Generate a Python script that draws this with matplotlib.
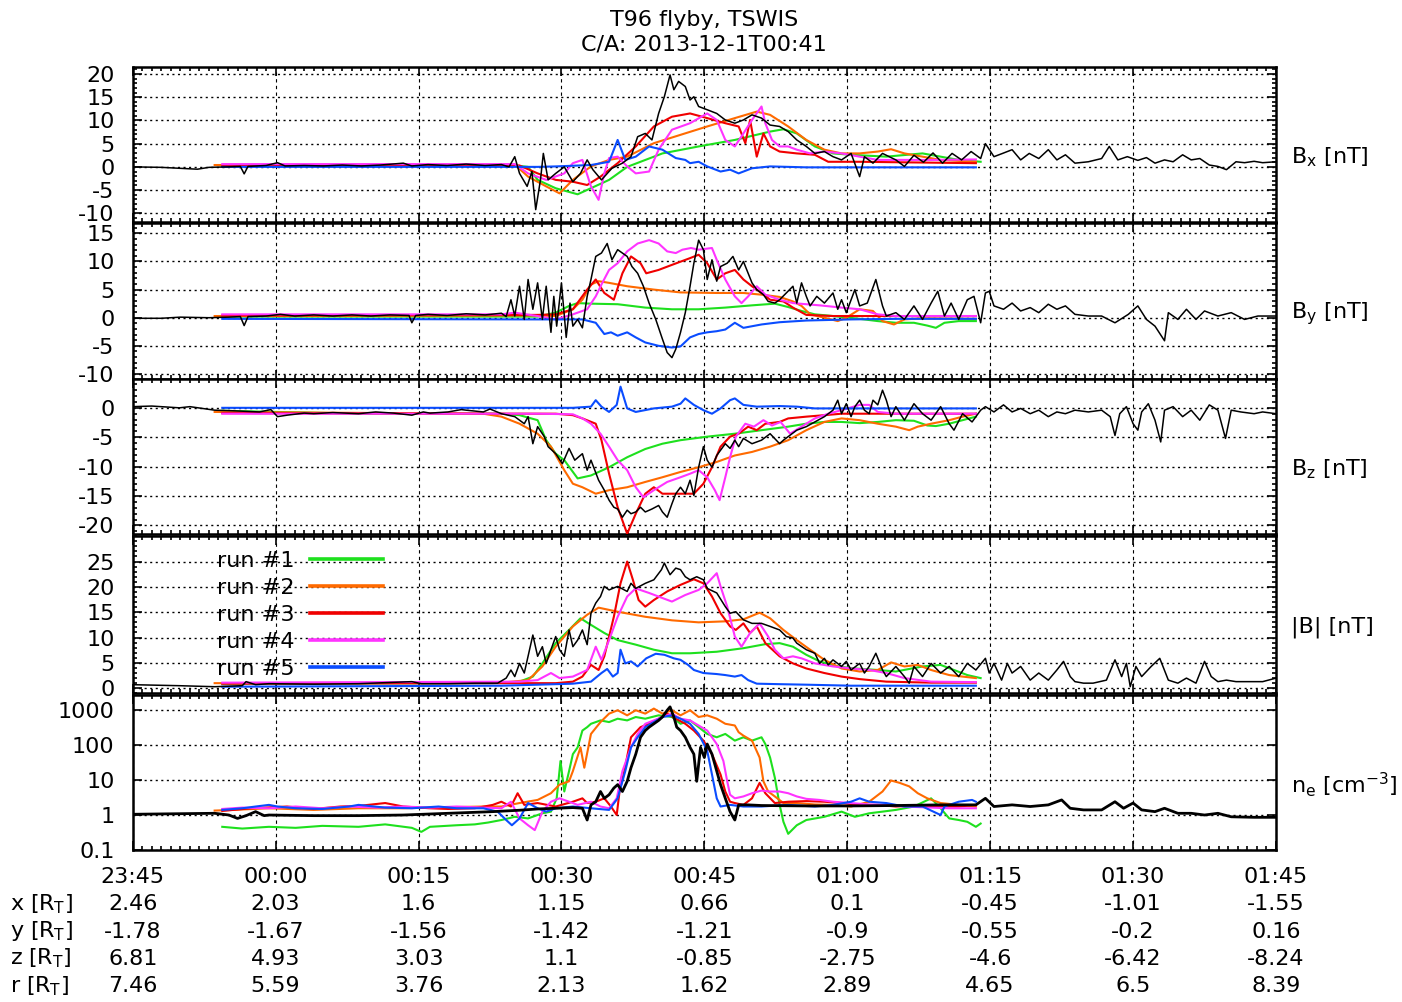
"""T96 flyby (TSWIS): observed field/density vs. five model runs."""

import numpy as np
import matplotlib
matplotlib.use("Agg")
import matplotlib.pyplot as plt
import matplotlib.ticker as mticker

plt.rcParams["font.family"] = ["DejaVu Sans"]
plt.rcParams["mathtext.fontset"] = "dejavusans"
plt.rcParams["axes.unicode_minus"] = False
plt.rcParams["font.size"] = 16

# time axis: minutes after 23:45 (2013-11-30)
TIME_TICKS = [0, 15, 30, 45, 60, 75, 90, 105, 120]
TIME_LABELS = ["23:45", "00:00", "00:15", "00:30", "00:45", "01:00", "01:15", "01:30", "01:45"]
POS_X = ["2.46", "2.03", "1.6", "1.15", "0.66", "0.1", "-0.45", "-1.01", "-1.55"]
POS_Y = ["-1.78", "-1.67", "-1.56", "-1.42", "-1.21", "-0.9", "-0.55", "-0.2", "0.16"]
POS_Z = ["6.81", "4.93", "3.03", "1.1", "-0.85", "-2.75", "-4.6", "-6.42", "-8.24"]
POS_R = ["7.46", "5.59", "3.76", "2.13", "1.62", "2.89", "4.65", "6.5", "8.39"]

RUN_LABELS = ["run #1", "run #2", "run #3", "run #4", "run #5"]
RUN_COLORS = ["#1ee01e", "#ff6a00", "#f00000", "#ff33ff", "#0a4cff"]

# ---------------- Bx [nT] ----------------
BX_OBS = [(0.0, 0.0), (3.0, -0.1), (6.8, -0.5), (8.0, -0.1), (10.0, 0.0), (11.3, 0.1), (11.7, -1.5),
          (12.1, 0.1), (14.0, 0.3), (15.2, 0.9), (16.0, 0.2), (18.0, 0.3), (20.0, 0.2), (22.0, 0.4),
          (24.0, 0.2), (26.0, 0.4), (28.4, 0.8), (29.3, 0.2), (31.0, 0.5), (33.0, 0.3), (35.0, 0.6),
          (37.0, 0.3), (38.7, 0.5), (39.5, 0.0), (40.1, 2.2), (40.6, -1.4), (41.4, -4.2), (41.9, -1.0),
          (42.3, -9.2), (42.8, -2.8), (43.1, 2.9), (43.6, -2.8), (44.4, -1.4), (45.3, 0.0), (46.2, -3.2),
          (47.0, -1.4), (47.7, 1.5), (48.3, -0.6), (49.2, -2.8), (50.3, -0.3), (51.4, 0.8), (52.3, 2.2),
          (53.0, 6.5), (53.8, 7.2), (54.5, 5.8), (55.2, 11.5), (55.8, 15.1), (56.4, 19.8), (56.8, 16.6),
          (57.3, 18.4), (58.0, 17.3), (58.5, 14.4), (58.9, 15.1), (59.4, 13.0), (60.3, 12.3), (61.3, 11.5),
          (62.2, 10.1), (63.2, 9.4), (64.1, 10.1), (65.0, 11.2), (66.0, 10.5), (66.9, 9.0), (67.9, 8.7),
          (68.8, 7.6), (69.7, 5.8), (70.7, 4.4), (71.6, 2.9), (72.6, 3.3), (73.5, 2.2), (74.4, 1.5),
          (75.4, 2.9), (76.3, -2.1), (76.8, 2.2), (77.7, 0.8), (78.7, 2.9), (80.1, 1.5), (81.0, 0.1),
          (82.0, 2.5), (83.0, 1.0), (84.0, 3.0), (85.0, 0.8), (86.0, 2.9), (87.0, 1.5), (88.0, 3.3),
          (89.0, 1.8), (89.5, 5.0), (90.4, 2.2), (91.3, 2.9), (92.3, 3.7), (93.2, 1.5), (94.1, 2.9),
          (95.1, 1.8), (96.1, 3.7), (97.0, 1.5), (97.9, 2.6), (98.9, 0.8), (100.3, 1.1), (101.7, 1.8),
          (102.5, 4.4), (103.4, 1.5), (104.4, 2.2), (105.5, 1.4), (106.4, 2.0), (107.3, 0.8), (108.3, 1.5),
          (109.2, 1.1), (110.2, 2.6), (111.1, 1.5), (112.0, 1.8), (113.0, 0.4), (113.9, 0.1), (114.8, -0.6),
          (115.8, 1.1), (116.7, 0.9), (117.7, 1.2), (118.6, 0.9), (120.0, 1.1)]
BX_RUN1 = [(9.4, 0.3), (40.1, 0.3), (41.5, 0.0), (42.5, -2.8), (44.4, -4.6), (46.7, -5.9), (50.0, -2.8),
           (51.9, 0.0), (55.6, 2.9), (59.4, 4.4), (63.2, 5.8), (66.9, 7.6), (68.3, 8.1), (69.7, 7.2),
           (71.6, 4.4), (73.5, 2.9), (75.4, 2.6), (79.1, 2.2), (82.9, 2.9), (84.8, 2.2), (86.7, 1.5), (89.0, 1.1)]
BX_RUN2 = [(8.6, 0.4), (40.1, 0.5), (41.5, -2.1), (43.4, -4.2), (44.8, -5.7), (46.2, -2.8), (48.1, 0.1),
           (50.0, 1.5), (51.9, 2.2), (54.7, 5.1), (57.5, 6.9), (60.3, 8.7), (63.2, 10.5), (65.5, 11.9),
           (66.9, 11.2), (68.8, 8.7), (70.7, 5.8), (72.6, 3.7), (74.4, 2.9), (76.3, 2.9), (78.2, 3.3),
           (79.6, 3.8), (81.0, 2.9), (82.9, 2.2), (84.8, 1.5), (88.5, 1.1)]
BX_RUN3 = [(9.4, 0.3), (40.6, 0.3), (42.5, -1.4), (44.4, -2.8), (46.2, -3.2), (47.7, -3.9), (49.1, -2.1),
           (50.9, 0.8), (52.8, 4.4), (54.7, 8.7), (56.6, 10.8), (58.5, 11.5), (60.3, 10.5), (62.2, 9.4),
           (63.6, 8.7), (64.3, 5.1), (64.8, 10.1), (65.5, 2.2), (66.2, 7.2), (66.9, 4.4), (67.9, 3.3),
           (69.7, 2.9), (71.6, 2.6), (73.0, 1.1), (76.3, 1.1), (80.1, 1.0), (88.5, 0.8)]
BX_RUN4 = [(9.4, 0.6), (40.1, 0.6), (41.5, -1.4), (43.4, -2.8), (45.3, -1.4), (46.2, 0.8), (47.2, 1.5),
           (48.1, -4.2), (48.9, -7.1), (49.5, -1.4), (50.0, 1.9), (50.9, 2.2), (51.9, 0.1), (52.8, -1.4),
           (54.2, -1.0), (55.2, 3.7), (56.6, 8.0), (58.5, 9.4), (60.3, 11.5), (61.3, 10.1), (62.2, 5.8),
           (63.2, 4.4), (64.1, 7.2), (65.0, 10.1), (66.0, 13.0), (66.4, 9.4), (67.1, 5.8), (67.9, 4.4),
           (68.8, 4.4), (69.7, 3.7), (71.1, 2.9), (72.6, 3.3), (74.4, 2.9), (76.3, 2.2), (78.2, 1.5),
           (80.1, 1.5), (83.8, 1.5), (88.5, 1.6)]
BX_RUN5 = [(9.4, 0.0), (42.5, 0.0), (44.4, 0.1), (48.1, 0.4), (50.0, 1.1), (50.9, 5.8), (51.7, 1.5),
           (52.8, 2.2), (54.2, 4.4), (55.6, 3.7), (57.0, 1.9), (58.0, 1.5), (58.5, 0.8), (59.4, 1.1),
           (60.3, 0.1), (61.7, -1.0), (62.7, -0.6), (63.6, -1.4), (65.0, -0.3), (66.9, 0.1), (70.7, -0.1),
           (80.1, -0.1), (88.5, -0.1)]

# ---------------- By [nT] ----------------
BY_OBS = [(0.0, -0.1), (3.0, -0.1), (5.0, 0.1), (8.0, 0.0), (10.0, 0.1), (11.3, 0.2), (11.7, -1.4),
          (12.1, 0.2), (14.0, 0.3), (15.5, 0.6), (17.0, 0.3), (19.0, 0.5), (21.0, 0.3), (23.0, 0.5),
          (25.0, 0.3), (27.0, 0.5), (29.0, 0.4), (29.3, -0.9), (29.7, 0.4), (31.0, 0.6), (33.0, 0.4),
          (35.0, 0.7), (37.0, 0.5), (38.7, 0.8), (39.2, 0.2), (39.7, 3.2), (40.1, 0.3), (40.6, 5.6),
          (41.1, -0.3), (41.5, 6.8), (42.0, 1.5), (42.5, 6.2), (43.0, -0.3), (43.4, 5.6), (43.9, -2.6),
          (44.2, 3.8), (44.5, -1.5), (45.0, 6.2), (45.5, -3.5), (45.9, 2.6), (46.2, -1.5), (46.7, -0.3),
          (47.2, -1.8), (47.7, 3.8), (48.1, 6.8), (48.6, 10.9), (49.2, 11.5), (49.8, 13.2), (50.3, 10.3),
          (50.9, 12.1), (51.9, 10.9), (52.4, 9.1), (53.0, 7.9), (53.6, 5.6), (54.2, 2.6), (54.9, -0.3),
          (55.6, -3.8), (56.1, -6.2), (56.6, -7.1), (57.0, -5.6), (57.5, -2.6), (58.0, 0.9), (58.5, 5.6),
          (58.9, 9.7), (59.4, 13.8), (59.9, 12.1), (60.3, 6.8), (60.8, 10.3), (61.3, 6.5), (61.7, 9.1),
          (62.4, 9.7), (63.0, 10.9), (63.6, 8.5), (64.1, 10.0), (64.6, 7.9), (65.0, 6.2), (65.5, 5.0),
          (66.2, 4.1), (66.7, 2.9), (67.4, 2.6), (67.9, 3.2), (68.6, 4.4), (69.3, 5.6), (69.7, 2.6),
          (70.2, 6.2), (70.7, 3.8), (71.1, 2.1), (71.8, 3.8), (72.6, 2.6), (73.5, 4.4), (74.0, 1.5),
          (74.4, 3.2), (74.9, 0.9), (75.8, 5.0), (76.3, 2.1), (77.1, 2.6), (78.0, 6.8), (78.7, 2.1),
          (79.1, 0.3), (80.1, 0.9), (81.0, -0.3), (82.0, 2.1), (82.9, -0.3), (83.8, 2.6), (84.5, 4.7),
          (85.2, 0.3), (85.9, 2.6), (86.7, -0.3), (87.6, 3.2), (88.3, 3.8), (89.0, -0.9), (89.5, 4.4),
          (89.9, 4.7), (90.4, 2.1), (91.4, 1.5), (92.3, 2.6), (93.2, 1.2), (94.2, 1.8), (95.1, 0.9),
          (96.1, 2.4), (97.0, 1.5), (97.9, 2.1), (98.9, 0.6), (100.3, 0.3), (101.7, 0.3), (103.1, -0.9),
          (104.5, 0.6), (105.5, 2.1), (106.4, -0.3), (107.3, -1.5), (108.3, -4.1), (108.7, 0.9),
          (109.7, -0.3), (110.6, 1.5), (111.6, -0.3), (112.5, 1.2), (113.9, 0.3), (115.3, 0.9),
          (116.7, -0.3), (118.1, 0.3), (120.0, 0.3)]
BY_RUN1 = [(9.4, 0.2), (42.5, 0.2), (44.4, 0.9), (45.8, 2.1), (46.7, 2.6), (48.1, 2.5), (50.9, 2.4),
           (53.8, 1.8), (56.6, 1.5), (59.4, 1.5), (62.2, 1.8), (65.0, 2.2), (67.4, 2.5), (68.8, 1.9),
           (70.2, 1.2), (71.6, 0.6), (73.5, 0.3), (76.3, -0.2), (78.2, -0.6), (80.1, -0.9), (82.0, -0.9),
           (83.4, -1.4), (84.3, -1.8), (85.2, -0.9), (86.7, -0.6), (88.5, -0.6)]
BY_RUN2 = [(8.6, 0.3), (42.5, 0.4), (44.4, 0.3), (46.2, 1.5), (47.2, 3.2), (48.1, 5.9), (48.9, 6.5),
           (50.0, 6.2), (51.9, 5.6), (54.7, 5.0), (57.5, 4.5), (61.3, 4.4), (64.1, 4.4), (66.0, 4.1),
           (67.9, 3.7), (69.3, 2.9), (70.2, 2.1), (71.1, 0.6), (72.6, 0.0), (74.0, -0.6), (74.9, 0.0),
           (76.3, 1.5), (77.7, 1.2), (78.7, -0.6), (79.9, -1.2), (81.0, -0.3), (82.9, -0.1), (88.5, -0.2)]
BY_RUN3 = [(9.4, 0.4), (42.5, 0.5), (44.4, 0.6), (46.2, 1.5), (47.7, 5.0), (48.6, 6.8), (49.5, 4.4),
           (50.5, 3.2), (51.4, 7.9), (52.3, 10.9), (53.3, 9.7), (53.9, 7.9), (55.2, 8.5), (56.6, 9.4),
           (58.5, 10.6), (59.4, 11.2), (60.3, 9.7), (61.3, 6.8), (62.2, 7.9), (63.2, 8.5), (64.1, 6.8),
           (65.0, 5.6), (66.0, 4.4), (66.9, 3.2), (68.3, 2.9), (69.3, 1.8), (70.7, 0.5), (73.5, 0.3),
           (80.1, 0.3), (88.5, 0.3)]
BY_RUN4 = [(9.4, 0.6), (38.7, 0.6), (40.1, 0.9), (42.5, 0.3), (44.4, -0.3), (46.2, 0.6), (47.7, 1.5),
           (48.6, 3.8), (49.2, 5.9), (50.0, 8.5), (50.9, 9.7), (51.9, 11.8), (53.0, 13.2), (54.2, 13.8),
           (55.2, 13.2), (56.1, 11.8), (57.0, 11.5), (57.7, 12.1), (58.6, 12.4), (59.4, 12.1), (60.8, 12.4),
           (61.3, 10.3), (62.2, 6.8), (63.2, 3.8), (63.9, 2.6), (64.6, 3.8), (65.5, 5.6), (66.4, 4.1),
           (67.9, 3.2), (69.3, 2.6), (70.7, 2.4), (72.1, 2.2), (74.4, 1.8), (76.3, 1.5), (78.2, 0.6),
           (80.1, 0.3), (88.5, 0.3)]
BY_RUN5 = [(9.4, -0.2), (42.5, -0.3), (47.2, -0.3), (48.6, -0.9), (49.5, -2.9), (50.2, -2.6), (50.9, -3.2),
           (51.9, -2.6), (52.8, -3.5), (53.8, -4.4), (55.2, -5.0), (56.6, -5.3), (57.5, -5.1), (58.5, -3.5),
           (59.4, -2.9), (60.3, -2.6), (61.3, -2.4), (62.2, -2.1), (63.2, -0.9), (64.1, -1.8), (66.0, -1.2),
           (67.9, -0.8), (70.7, -0.5), (75.4, -0.3), (80.1, -0.2), (88.5, -0.2)]

# ---------------- Bz [nT] ----------------
BZ_OBS = [(0.0, 0.2), (2.0, 0.3), (4.9, 0.0), (6.0, 0.2), (8.6, -0.4), (10.5, -0.5), (13.3, -0.7),
          (14.5, -0.3), (15.2, -1.5), (16.2, -1.25), (18.0, -0.9), (19.0, -1.0), (21.0, -0.8), (23.7, -1.0),
          (25.5, -0.7), (27.4, -0.9), (29.3, -1.25), (30.5, -0.7), (31.2, -0.9), (33.1, -0.7), (34.5, -0.3),
          (35.0, -0.4), (36.8, -0.7), (37.5, -0.2), (38.7, -1.0), (40.1, -1.5), (41.1, -2.7), (41.5, -1.5),
          (42.0, -6.1), (42.5, -3.2), (43.2, -4.9), (43.6, -6.6), (44.4, -7.8), (45.1, -9.5), (45.8, -6.9),
          (46.4, -8.9), (47.2, -7.8), (47.7, -10.6), (48.1, -8.9), (48.9, -12.3), (49.5, -14.0),
          (50.0, -15.7), (50.5, -16.9), (50.9, -17.2), (51.4, -18.6), (51.9, -17.4), (52.3, -18.0),
          (52.8, -17.7), (53.3, -16.9), (53.8, -17.7), (54.5, -17.2), (55.2, -16.6), (55.6, -17.7),
          (56.1, -18.6), (56.6, -16.3), (57.0, -14.6), (57.5, -13.5), (58.0, -14.6), (58.5, -12.3),
          (58.9, -14.9), (59.4, -10.1), (59.9, -6.6), (60.3, -8.9), (60.8, -10.1), (61.3, -8.1),
          (61.7, -7.2), (62.2, -6.1), (62.7, -6.9), (63.2, -5.5), (63.6, -6.6), (64.1, -5.2), (65.0, -6.1),
          (66.0, -5.5), (66.9, -4.4), (67.9, -6.1), (68.3, -5.5), (68.8, -4.9), (69.7, -3.8), (70.7, -3.2),
          (71.6, -2.4), (72.6, -1.5), (73.5, -0.4), (74.0, 1.3), (74.4, -1.0), (74.9, 0.7), (75.4, -1.5),
          (75.8, 0.2), (76.3, 1.3), (76.8, -0.4), (77.3, -1.0), (77.7, 1.3), (78.2, 0.5), (78.7, 3.0),
          (79.1, 1.3), (79.6, -1.5), (80.1, 0.2), (81.0, -2.1), (82.0, 0.7), (82.9, -1.0), (83.8, -2.1),
          (84.8, 0.2), (85.7, -2.7), (86.2, -3.8), (87.1, -1.0), (88.1, -2.4), (89.0, -0.4), (89.5, 0.2),
          (90.4, -0.7), (91.4, 0.5), (92.3, -0.7), (93.2, -0.1), (94.2, -1.0), (95.1, -0.4), (96.1, -1.5),
          (97.0, -0.7), (97.9, -1.0), (98.9, -0.4), (100.3, -0.7), (101.7, -0.4), (102.6, -1.5),
          (103.1, -4.7), (103.6, -1.0), (104.3, 0.2), (105.0, -2.7), (105.5, -3.8), (105.9, -0.7),
          (106.6, 0.7), (107.3, -2.1), (107.9, -5.8), (108.3, -0.4), (109.2, 0.2), (110.2, -1.5),
          (111.1, -0.4), (112.0, -2.1), (113.0, 0.5), (113.9, -0.4), (114.7, -5.2), (115.3, -0.4),
          (116.3, -0.7), (117.7, -1.0), (118.6, -0.7), (120.0, -1.0)]
BZ_RUN1 = [(9.4, -0.5), (23.7, -1.0), (38.7, -1.0), (40.6, -1.25), (42.5, -2.1), (43.4, -5.5), (44.4, -7.8),
           (45.3, -8.9), (46.7, -12.0), (48.1, -11.5), (50.0, -10.1), (51.9, -8.4), (53.8, -7.0),
           (55.6, -6.1), (57.5, -5.5), (60.3, -4.9), (63.2, -4.4), (66.0, -3.8), (68.8, -3.2), (70.7, -2.7),
           (72.6, -2.4), (74.4, -2.4), (76.3, -2.6), (78.2, -2.4), (80.1, -2.1), (82.0, -2.2), (83.4, -3.0),
           (84.3, -3.1), (85.7, -2.7), (87.1, -2.1), (88.5, -1.5)]
BZ_RUN2 = [(8.6, -0.7), (36.8, -1.0), (38.7, -1.5), (40.6, -2.7), (42.5, -4.4), (43.9, -6.6), (45.3, -10.6),
           (46.2, -12.9), (47.2, -13.5), (48.6, -14.6), (50.0, -14.0), (51.9, -13.5), (53.8, -12.6),
           (55.6, -11.8), (57.5, -10.9), (59.4, -10.1), (61.3, -9.2), (63.2, -8.1), (65.0, -7.5),
           (66.9, -6.6), (68.8, -5.5), (70.7, -3.8), (72.6, -2.4), (74.4, -1.8), (76.3, -2.1), (78.2, -2.7),
           (80.1, -3.2), (81.5, -3.8), (82.4, -3.2), (83.8, -2.7), (85.7, -2.1), (87.1, -1.5), (88.5, -1.0)]
BZ_RUN3 = [(9.4, -0.9), (42.5, -1.0), (44.4, -1.0), (46.2, -1.25), (47.2, -1.8), (48.6, -2.7), (49.2, -5.5),
           (50.0, -11.2), (50.9, -16.9), (51.9, -21.4), (52.8, -18.0), (53.8, -14.6), (54.7, -13.5),
           (55.6, -14.6), (57.5, -14.6), (58.9, -14.6), (59.9, -12.9), (60.8, -10.1), (61.7, -6.6),
           (62.7, -4.9), (63.6, -4.4), (64.6, -3.2), (65.5, -3.8), (66.4, -2.7), (67.9, -2.4), (68.8, -1.8),
           (70.7, -1.5), (72.6, -1.25), (74.4, -1.0), (80.1, -1.0), (88.5, -1.0)]
BZ_RUN4 = [(9.4, -1.0), (42.5, -1.0), (46.2, -1.1), (47.2, -1.8), (48.1, -2.7), (49.1, -4.4), (50.0, -6.6),
           (50.9, -8.9), (51.9, -10.6), (52.8, -13.5), (53.6, -15.2), (54.7, -14.0), (56.1, -12.6),
           (57.5, -11.8), (58.5, -11.2), (59.4, -10.6), (60.3, -11.8), (61.1, -14.0), (61.6, -15.7),
           (62.2, -11.8), (62.7, -8.4), (63.3, -4.9), (64.3, -2.7), (65.2, -3.2), (66.2, -2.1), (67.1, -3.0),
           (68.0, -2.4), (69.0, -4.4), (70.2, -3.2), (71.6, -1.8), (73.0, -1.0), (74.4, -0.4), (76.3, 0.5),
           (77.3, 0.5), (78.2, -0.7), (80.1, -1.0), (84.8, -1.0), (88.5, -1.0)]
BZ_RUN5 = [(9.4, 0.0), (46.2, 0.0), (48.1, 0.2), (48.6, 1.3), (49.2, 0.2), (50.0, -0.7), (50.8, 0.5),
           (51.2, 3.6), (51.9, -0.1), (52.8, -0.7), (54.7, -0.1), (56.6, 0.2), (57.5, 0.7), (58.0, 1.6),
           (58.9, 0.5), (59.9, -0.4), (60.8, -1.0), (61.7, -0.1), (62.7, 1.3), (63.2, 1.6), (64.1, 0.5),
           (65.5, 0.2), (67.9, 0.3), (69.7, 0.2), (71.6, -0.1), (80.1, -0.1), (88.5, -0.1)]

# ---------------- |B| [nT] ----------------
BT_OBS = [(0.0, 0.7), (4.9, 0.5), (8.6, 0.3), (11.5, 0.5), (11.9, 1.3), (12.9, 0.7), (14.3, 0.9),
          (19.0, 0.8), (23.7, 0.9), (29.3, 1.3), (30.3, 0.9), (33.1, 0.9), (35.9, 1.0), (38.3, 1.0),
          (39.2, 2.0), (39.7, 3.6), (40.1, 2.3), (40.6, 4.9), (41.1, 3.0), (41.5, 6.3), (42.0, 10.5),
          (42.5, 6.3), (43.0, 8.2), (43.4, 4.9), (43.9, 7.6), (44.4, 10.2), (44.8, 7.6), (45.3, 6.3),
          (45.8, 11.5), (46.2, 8.2), (46.7, 9.5), (47.2, 11.5), (47.7, 8.6), (48.1, 14.8), (48.6, 16.8),
          (49.1, 18.1), (49.5, 20.1), (50.0, 19.4), (50.9, 20.1), (51.9, 19.1), (52.3, 20.7), (52.8, 19.7),
          (53.8, 20.7), (54.7, 21.4), (55.5, 23.4), (55.8, 24.7), (56.4, 22.4), (57.0, 23.7), (57.5, 23.4),
          (58.0, 22.0), (58.5, 21.4), (59.2, 22.0), (59.9, 21.4), (60.3, 19.7), (61.3, 18.8), (62.2, 16.1),
          (62.7, 14.8), (63.3, 15.1), (64.1, 13.5), (65.0, 12.8), (66.0, 12.8), (66.9, 12.2), (67.9, 11.5),
          (68.6, 10.2), (69.3, 9.9), (69.7, 8.9), (70.7, 7.6), (71.6, 6.9), (72.1, 4.9), (72.6, 5.9),
          (73.0, 4.6), (73.5, 5.6), (74.4, 4.3), (74.9, 5.3), (75.4, 3.6), (76.3, 4.9), (76.8, 3.0),
          (77.3, 4.3), (78.0, 6.9), (78.7, 3.6), (79.1, 2.3), (80.1, 4.3), (81.0, 2.3), (81.5, 1.0),
          (82.0, 4.3), (82.9, 2.3), (83.8, 4.9), (84.8, 3.0), (85.7, 4.3), (86.7, 2.3), (87.6, 4.9),
          (88.5, 3.6), (89.5, 5.9), (89.9, 3.0), (90.4, 4.9), (91.2, 1.6), (91.8, 4.9), (92.3, 3.0),
          (93.2, 4.3), (94.2, 1.6), (95.1, 3.0), (96.1, 1.6), (97.0, 3.6), (97.7, 5.3), (98.4, 2.3),
          (98.9, 1.3), (99.8, 1.0), (100.8, 1.0), (102.2, 1.6), (103.1, 5.6), (103.8, 2.3), (104.3, 4.9),
          (104.7, 0.3), (105.3, 4.3), (105.9, 2.3), (106.9, 4.3), (107.8, 5.9), (108.7, 1.6), (109.7, 1.0),
          (110.6, 2.0), (111.6, 1.0), (112.5, 5.3), (113.2, 2.3), (113.9, 1.3), (114.8, 1.6), (115.8, 1.3),
          (117.2, 1.3), (118.6, 1.3), (120.0, 2.0)]
BT_RUN1 = [(9.4, 0.9), (37.8, 1.0), (40.6, 1.3), (42.0, 2.3), (43.0, 4.9), (44.4, 8.9), (45.8, 11.5),
           (47.0, 13.8), (48.1, 12.5), (49.5, 10.9), (50.9, 9.5), (52.8, 8.6), (54.7, 7.6), (56.6, 6.9),
           (58.5, 6.9), (61.3, 7.2), (64.1, 7.9), (66.4, 8.7), (67.9, 8.9), (69.3, 8.2), (70.7, 6.6),
           (72.1, 5.3), (74.0, 4.3), (75.8, 3.9), (78.2, 3.6), (80.1, 3.3), (82.9, 4.3), (84.8, 4.6),
           (86.2, 3.6), (87.6, 2.6), (89.0, 2.0)]
BT_RUN2 = [(8.6, 1.0), (38.7, 1.1), (41.5, 1.6), (43.0, 4.3), (44.4, 8.2), (46.2, 12.2), (47.7, 14.5),
           (48.9, 15.9), (50.9, 15.1), (53.8, 14.1), (56.6, 13.4), (59.4, 13.0), (62.2, 13.2), (64.1, 13.6),
           (65.8, 14.9), (66.9, 13.8), (68.3, 11.5), (69.7, 9.5), (71.1, 7.6), (72.6, 5.6), (74.4, 3.9),
           (76.3, 3.3), (78.2, 3.6), (79.6, 5.1), (81.0, 4.3), (82.4, 4.6), (83.8, 3.6), (85.7, 2.6), (88.5, 2.0)]
BT_RUN3 = [(9.4, 0.9), (40.6, 1.0), (44.4, 1.0), (46.2, 1.3), (47.2, 2.3), (48.1, 4.6), (48.9, 3.6),
           (49.5, 6.3), (50.5, 14.1), (51.2, 20.7), (51.9, 25.0), (52.5, 21.4), (53.1, 17.4), (53.8, 16.1),
           (54.7, 17.4), (56.1, 19.1), (57.5, 20.4), (58.9, 21.5), (59.9, 20.7), (60.8, 18.1), (61.7, 14.8),
           (62.7, 12.2), (63.3, 11.5), (64.1, 12.8), (64.8, 10.9), (65.5, 12.2), (66.4, 8.9), (67.9, 6.3),
           (69.3, 4.9), (70.7, 3.9), (72.6, 3.0), (74.4, 2.3), (76.3, 1.8), (79.1, 1.3), (83.8, 1.1), (88.5, 1.1)]
BT_RUN4 = [(9.4, 1.1), (40.6, 1.3), (42.5, 1.6), (43.9, 3.0), (44.8, 2.0), (46.2, 2.3), (47.7, 3.6),
           (48.6, 8.2), (49.2, 5.6), (50.0, 9.5), (50.9, 14.1), (51.9, 18.1), (52.8, 19.7), (54.2, 18.8),
           (55.6, 17.8), (56.6, 17.1), (58.0, 18.4), (59.4, 19.4), (60.3, 20.7), (61.3, 22.7), (61.7, 20.1),
           (62.4, 16.1), (63.2, 10.2), (63.9, 8.2), (64.8, 10.9), (65.8, 12.8), (66.7, 10.2), (67.4, 7.6),
           (68.3, 5.9), (69.3, 6.3), (70.2, 5.9), (71.6, 4.9), (73.5, 4.3), (75.4, 3.9), (77.3, 3.6),
           (79.1, 3.0), (81.0, 2.0), (83.8, 1.3), (88.5, 1.2)]
BT_RUN5 = [(9.4, 0.3), (38.7, 0.5), (42.5, 0.7), (46.2, 0.9), (48.1, 1.3), (49.2, 3.0), (49.8, 3.8),
           (50.4, 2.3), (50.9, 3.0), (51.2, 7.6), (51.7, 4.9), (52.3, 5.3), (53.0, 4.3), (53.9, 5.9),
           (54.9, 6.8), (55.8, 6.6), (56.8, 5.9), (57.5, 5.6), (58.3, 4.6), (58.9, 3.6), (59.9, 3.0),
           (61.3, 2.8), (62.2, 2.6), (63.2, 2.3), (63.9, 2.6), (64.6, 1.6), (65.5, 0.9), (67.9, 0.8),
           (70.7, 0.7), (75.4, 0.5), (80.1, 0.5), (88.5, 0.5)]

# ---------------- n_e [cm^-3] ----------------
NE_OBS = [(0.0, 1.05), (4.9, 1.09), (8.6, 1.12), (10.1, 1.0), (11.0, 0.80), (11.9, 0.96), (12.9, 1.25),
          (13.8, 0.96), (14.3, 1.0), (19.0, 0.96), (23.7, 0.96), (28.4, 1.0), (33.1, 1.12), (37.8, 1.25),
          (40.6, 1.37), (42.5, 1.49), (44.4, 1.56), (46.2, 1.63), (47.2, 1.56), (47.7, 0.72), (48.1, 1.95),
          (48.6, 2.4), (49.1, 4.7), (49.5, 3.0), (50.0, 3.8), (50.5, 5.9), (50.9, 7.4), (51.4, 4.7),
          (51.9, 9.2), (52.3, 22.5), (52.8, 55), (53.3, 167), (53.8, 260), (54.2, 325), (54.7, 406),
          (55.2, 507), (55.6, 634), (56.1, 989), (56.4, 1237), (56.8, 634), (57.1, 325), (57.5, 260),
          (58.0, 167), (58.5, 86), (58.9, 55), (59.2, 9.2), (59.6, 86), (60.0, 44), (60.3, 107), (60.8, 55),
          (61.3, 18), (61.7, 7.4), (62.2, 3.0), (62.7, 1.25), (63.2, 0.72), (63.6, 1.95), (64.6, 1.95),
          (66.0, 1.87), (70.7, 1.82), (75.4, 1.82), (80.1, 1.87), (84.8, 1.95), (88.5, 1.95), (89.5, 3.0),
          (90.4, 1.75), (92.3, 1.95), (94.2, 1.75), (96.1, 1.95), (97.5, 2.7), (98.4, 1.56), (99.8, 1.4),
          (101.7, 1.4), (103.1, 2.4), (104.0, 1.56), (105.0, 2.2), (105.9, 1.4), (107.3, 1.25),
          (108.3, 1.56), (109.7, 1.12), (111.1, 1.12), (112.5, 1.0), (113.9, 1.12), (115.3, 0.89),
          (117.7, 0.86), (120.0, 0.86)]
NE_RUN1 = [(9.4, 0.46), (11.5, 0.41), (14.3, 0.46), (17.1, 0.43), (19.9, 0.49), (23.7, 0.46), (26.5, 0.54),
           (29.3, 0.43), (30.3, 0.33), (31.2, 0.46), (34.0, 0.51), (35.9, 0.54), (37.3, 0.61), (38.7, 0.72),
           (40.1, 0.89), (41.5, 0.80), (43.0, 1.12), (43.9, 1.25), (44.5, 3.0), (44.9, 35), (45.3, 4.7),
           (45.8, 18), (46.2, 55), (46.7, 86), (47.2, 260), (47.7, 325), (48.1, 406), (49.1, 507),
           (50.0, 454), (50.9, 567), (51.9, 507), (52.8, 634), (53.8, 567), (55.2, 708), (56.6, 634),
           (57.5, 406), (58.5, 507), (59.4, 325), (60.3, 208), (61.3, 167), (62.2, 208), (63.2, 134),
           (64.1, 167), (65.0, 134), (66.0, 167), (66.4, 107), (66.9, 44), (67.4, 11.6), (67.9, 1.95),
           (68.3, 0.64), (68.8, 0.29), (69.7, 0.51), (70.7, 0.72), (72.6, 0.89), (74.4, 1.25), (75.8, 0.89),
           (77.3, 1.12), (78.7, 1.25), (80.1, 1.40), (82.0, 1.75), (83.8, 3.0), (84.8, 1.56), (85.7, 0.80),
           (86.7, 0.72), (87.6, 0.64), (88.5, 0.46), (89.0, 0.57)]
NE_RUN2 = [(8.6, 1.34), (10.5, 1.40), (14.3, 1.56), (19.0, 1.40), (23.7, 1.56), (28.4, 1.56), (33.1, 1.67),
           (36.8, 1.75), (38.7, 1.75), (40.6, 2.2), (42.5, 2.7), (43.9, 4.2), (44.8, 7.4), (45.8, 9.2),
           (46.2, 18), (47.0, 86), (47.4, 22.5), (48.1, 208), (49.1, 454), (50.0, 792), (50.9, 989),
           (51.9, 708), (52.8, 989), (53.8, 792), (54.7, 1105), (55.6, 792), (56.6, 989), (57.5, 708),
           (58.5, 989), (59.4, 634), (60.3, 708), (61.3, 567), (62.2, 406), (63.2, 363), (63.6, 233),
           (64.1, 186), (65.0, 134), (65.8, 44), (66.2, 9.2), (66.7, 4.7), (67.4, 3.4), (68.3, 2.2),
           (69.7, 2.2), (71.6, 2.0), (73.5, 1.95), (75.4, 1.75), (77.3, 2.4), (78.7, 4.7), (79.6, 9.7),
           (80.5, 8.3), (81.5, 6.6), (82.4, 4.2), (83.4, 3.0), (84.8, 2.2), (86.7, 1.95), (88.5, 1.75)]
NE_RUN3 = [(9.4, 1.31), (12.4, 1.56), (16.2, 1.75), (19.0, 1.49), (21.8, 1.75), (23.7, 1.82), (26.5, 2.2),
           (28.4, 1.75), (31.2, 1.56), (33.1, 1.49), (35.9, 1.56), (37.8, 1.95), (38.7, 2.4), (39.7, 1.75),
           (40.4, 4.2), (41.1, 1.95), (42.5, 2.2), (44.4, 1.75), (46.2, 2.4), (47.2, 3.0), (47.7, 2.2),
           (48.6, 2.4), (49.5, 3.0), (50.2, 1.75), (50.8, 1.0), (51.1, 4.7), (51.6, 18), (52.3, 167),
           (53.3, 325), (54.2, 406), (55.2, 567), (56.1, 792), (57.0, 567), (58.0, 406), (58.9, 260),
           (59.9, 134), (60.8, 55), (61.7, 14.4), (62.2, 4.7), (62.7, 2.4), (63.2, 2.2), (64.1, 1.95),
           (65.0, 3.0), (65.8, 8.3), (66.4, 4.2), (67.4, 2.2), (68.8, 2.4), (70.7, 2.5), (72.6, 2.4),
           (74.4, 2.2), (76.3, 1.95), (78.2, 1.95), (80.1, 1.75), (82.0, 1.87), (84.8, 1.75), (86.7, 1.75),
           (88.5, 1.95)]
NE_RUN4 = [(9.4, 1.49), (11.5, 1.63), (14.3, 1.56), (17.1, 1.75), (19.9, 1.56), (22.7, 1.75), (25.6, 1.63),
           (28.4, 1.75), (31.2, 1.63), (34.0, 1.75), (36.8, 1.63), (38.7, 1.56), (39.7, 2.4), (40.6, 0.80),
           (41.5, 0.51), (42.2, 0.37), (43.0, 1.25), (43.9, 2.4), (44.8, 3.0), (45.8, 2.4), (46.7, 1.95),
           (48.1, 2.4), (49.1, 1.75), (50.0, 1.56), (50.8, 3.0), (51.4, 18), (52.3, 86), (53.0, 208),
           (53.8, 406), (54.7, 507), (55.6, 634), (56.6, 792), (57.5, 567), (58.5, 507), (59.4, 363),
           (60.3, 260), (61.3, 107), (62.0, 35), (62.4, 9.2), (62.7, 3.8), (63.2, 3.0), (64.1, 3.4),
           (65.0, 4.2), (66.0, 5.0), (66.9, 4.7), (67.9, 4.7), (68.8, 4.2), (69.7, 3.4), (70.7, 2.9),
           (72.1, 2.7), (73.5, 2.4), (75.4, 2.2), (77.3, 2.0), (79.1, 1.95), (81.0, 1.75), (83.8, 1.63),
           (85.7, 1.56), (88.5, 1.56)]
NE_RUN5 = [(9.4, 1.40), (11.5, 1.56), (12.9, 1.75), (14.3, 1.95), (15.2, 1.75), (17.1, 1.56), (19.9, 1.49),
           (22.7, 1.75), (23.7, 1.95), (26.5, 1.63), (29.3, 1.56), (32.1, 1.75), (34.0, 1.56), (36.8, 1.56),
           (38.3, 1.25), (39.2, 0.72), (39.8, 0.51), (40.6, 0.80), (41.5, 2.2), (42.5, 1.56), (43.4, 1.25),
           (44.4, 1.56), (46.2, 1.75), (48.1, 1.56), (50.0, 1.40), (50.9, 3.0), (51.7, 18), (52.3, 86),
           (53.0, 167), (53.8, 325), (54.7, 454), (55.6, 634), (56.6, 708), (57.5, 567), (58.5, 406),
           (59.4, 208), (60.3, 69), (60.8, 14.4), (61.3, 3.0), (61.7, 1.75), (62.7, 1.95), (64.1, 1.75),
           (66.0, 1.75), (68.8, 1.95), (71.6, 1.75), (73.5, 1.95), (75.4, 2.4), (76.3, 3.0), (77.3, 2.4),
           (79.1, 2.2), (81.0, 1.75), (82.9, 1.75), (84.8, 1.0), (85.2, 1.75), (86.7, 2.4), (88.1, 2.7),
           (88.5, 2.4)]

PANELS = [
    ("B$_\\mathrm{x}$ [nT]", BX_OBS, [BX_RUN1, BX_RUN2, BX_RUN3, BX_RUN4, BX_RUN5], (-11.8, 21.5), [-10, -5, 0, 5, 10, 15, 20]),
    ("B$_\\mathrm{y}$ [nT]", BY_OBS, [BY_RUN1, BY_RUN2, BY_RUN3, BY_RUN4, BY_RUN5], (-10.9, 16.9), [-10, -5, 0, 5, 10, 15]),
    ("B$_\\mathrm{z}$ [nT]", BZ_OBS, [BZ_RUN1, BZ_RUN2, BZ_RUN3, BZ_RUN4, BZ_RUN5], (-21.5, 4.9), [-20, -15, -10, -5, 0]),
    ("|B| [nT]", BT_OBS, [BT_RUN1, BT_RUN2, BT_RUN3, BT_RUN4, BT_RUN5], (-1.0, 30.1), [0, 5, 10, 15, 20, 25]),
    ("n$_\\mathrm{e}$ [cm$^{-3}$]", NE_OBS, [NE_RUN1, NE_RUN2, NE_RUN3, NE_RUN4, NE_RUN5], (0.1, 2700), [0.1, 1, 10, 100, 1000]),
]

# panel extents in pixels (top, bottom) on a 1402 x 1002 canvas
W, H = 1402, 1002
X0, X1 = 132.7, 1276.0
PANEL_PX = [(67.0, 221.7), (222.7, 379.0), (379.0, 534.3), (535.7, 693.3), (695.0, 850.0)]


def xy(pairs):
    a = np.array(pairs, dtype=float)
    return a[:, 0], a[:, 1]


fig = plt.figure(figsize=(W / 100, H / 100), dpi=100)
axes = []
for i, (label, obs, runs, ylim, yticks) in enumerate(PANELS):
    top, bot = PANEL_PX[i]
    ax = fig.add_axes([X0 / W, 1 - bot / H, (X1 - X0) / W, (bot - top) / H])
    axes.append(ax)
    log = i == 4
    if log:
        ax.set_yscale("log")

    for run, color in zip(runs, RUN_COLORS):
        t, v = xy(run)
        ax.plot(t, v, color=color, lw=1.5, zorder=3)
    t, v = xy(obs)
    ax.plot(t, v, color="black", lw=2.0 if log else 1.1, zorder=4)

    ax.set_xlim(0, 120)
    ax.set_ylim(*ylim)
    ax.set_yticks(yticks)
    if log:
        ax.yaxis.set_major_formatter(mticker.FixedFormatter(["0.1", "1", "10", "100", "1000"]))
        ax.yaxis.set_minor_locator(mticker.LogLocator(base=10, subs=np.arange(2, 10)))
        ax.yaxis.set_minor_formatter(mticker.NullFormatter())
    else:
        ax.yaxis.set_minor_locator(mticker.MultipleLocator(1))
    ax.set_xticks(TIME_TICKS)
    ax.xaxis.set_minor_locator(mticker.MultipleLocator(1))

    ax.grid(True, axis="x", which="major", color="black", lw=0.8, ls=(0, (3, 3)))
    ax.grid(True, axis="y", which="major", color="black", lw=1.0, ls=(0, (1.5, 2.5)))
    ax.set_axisbelow(True)

    ax.tick_params(which="both", direction="in", top=True, right=True, width=1.2, labelsize=16)
    ax.tick_params(which="major", length=6.5, pad=13)
    ax.tick_params(which="minor", length=3.2)
    for s in ax.spines.values():
        s.set_linewidth(1.8)

    if i < 4:
        ax.tick_params(labelbottom=False)
    else:
        labels = [f"{a}\n{b}\n{c}\n{d}\n{e}" for a, b, c, d, e in
                  zip(TIME_LABELS, POS_X, POS_Y, POS_Z, POS_R)]
        ax.set_xticklabels(labels, linespacing=1.445)
        ax.tick_params(axis="x", pad=12.5)

    ax.text(1.013, 0.42, label, transform=ax.transAxes, ha="left", va="center", fontsize=16)

# legend in the |B| panel
handles = [plt.Line2D([], [], color=c, lw=2.6) for c in RUN_COLORS]
axes[3].legend(handles, RUN_LABELS, loc="upper left", bbox_to_anchor=(0.0737, 0.905),
               markerfirst=False, frameon=False, handlelength=3.3, handletextpad=0.68,
               labelspacing=0.32, borderpad=0, borderaxespad=0, fontsize=16)

# row labels of the position table
for k, row in enumerate(["x [R$_\\mathrm{T}$]", "y [R$_\\mathrm{T}$]", "z [R$_\\mathrm{T}$]", "r [R$_\\mathrm{T}$]"]):
    fig.text(10 / W, 1 - (904 + 27.3 * k) / H, row, ha="left", va="center", fontsize=16)

cx = (X0 + X1) / 2 / W
fig.text(cx, 1 - 20 / H, "T96 flyby, TSWIS", ha="center", va="center", fontsize=16)
fig.text(cx, 1 - 45 / H, "C/A: 2013-12-1T00:41", ha="center", va="center", fontsize=16)

fig.savefig("out.png", dpi=100)
